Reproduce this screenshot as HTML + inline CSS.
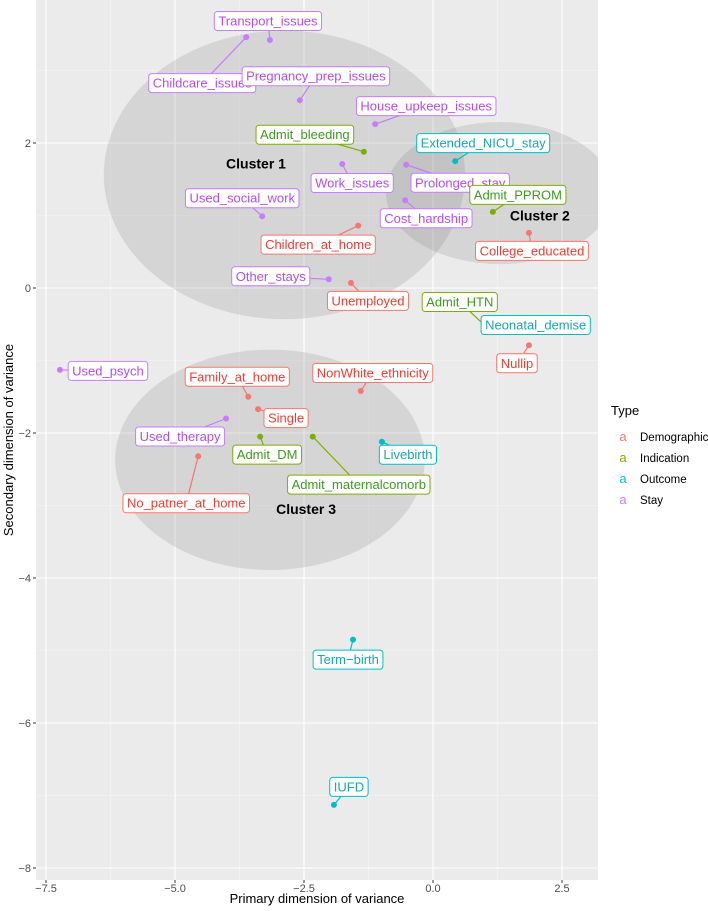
<!DOCTYPE html>
<html><head><meta charset="utf-8"><style>
body{margin:0;background:#fff;font-family:"Liberation Sans",sans-serif}
svg text{font-family:"Liberation Sans",sans-serif}
</style></head><body>
<svg id="chart" width="708" height="906" xmlns="http://www.w3.org/2000/svg">
<defs><clipPath id="pc"><rect x="36" y="0" width="562" height="880"/></clipPath></defs>
<rect x="36" y="0" width="562" height="880" fill="#EBEBEB"/>
<g id="grid" clip-path="url(#pc)"></g><g id="clusters" clip-path="url(#pc)"></g><g id="segs"></g><g id="pts"></g><g id="labels"></g><g id="axes"></g>
<text x="317" y="903" text-anchor="middle" font-size="13" fill="#000">Primary dimension of variance</text>
<text transform="translate(13,440) rotate(-90)" text-anchor="middle" font-size="13" fill="#000">Secondary dimension of variance</text>
<g>
<text x="611" y="415" font-size="13">Type</text>
</g>
<g id="legend"></g>
</svg>
<script>
const names=["Transport_issues","Childcare_issues","Pregnancy_prep_issues","House_upkeep_issues","Admit_bleeding","Extended_NICU_stay","Work_issues","Prolonged_stay","Admit_PPROM","Cost_hardship","Used_social_work","Children_at_home","College_educated","Other_stays","Unemployed","Admit_HTN","Neonatal_demise","Nullip","Used_psych","Family_at_home","NonWhite_ethnicity","Single","Used_therapy","Admit_DM","Admit_maternalcomorb","Livebirth","No_patner_at_home","Term\u2212birth","IUFD"];
const types=["Stay","Stay","Stay","Stay","Indication","Outcome","Stay","Stay","Indication","Stay","Stay","Demographic","Demographic","Stay","Demographic","Indication","Outcome","Demographic","Stay","Demographic","Demographic","Demographic","Stay","Indication","Indication","Outcome","Demographic","Outcome","Outcome"];
const xVals=[-3.16,-3.62,-2.58,-1.12,-1.34,0.43,-1.76,-0.52,1.16,-0.54,-3.31,-1.45,1.86,-2.02,-1.59,1.10,1.99,1.86,-7.23,-3.58,-1.40,-3.39,-4.01,-3.35,-2.33,-0.99,-4.55,-1.55,-1.92];
const yVals=[3.42,3.46,2.59,2.26,1.88,1.75,1.71,1.70,1.05,1.21,0.99,0.86,0.76,0.12,0.07,-0.58,-0.51,-0.79,-1.13,-1.50,-1.42,-1.67,-1.80,-2.05,-2.05,-2.12,-2.32,-4.85,-7.13];
// label offsets (px) relative to point — layout, not data
const ldx=[-2,-44,16,51,-59,28,10,54,25,21,-20,-40,3,-58,17,-30,0,-12,48,-11,12,28,-46,7,46,26,-12,-5,15];
const ldy=[-19,46,-24,-18,-17,-18,19,18,-17,18,-18,19,18,-3,18,-28,0,18,1,-20,-18,9,18,18,48,13,47,20,-18];
const xTicks=[-7.5,-5.0,-2.5,0.0,2.5], xTickLabels=["\u22127.5","\u22125.0","\u22122.5","0.0","2.5"];
const yTicks=[2,0,-2,-4,-6,-8], yTickLabels=["2","0","\u22122","\u22124","\u22126","\u22128"];
const typeNames=["Demographic","Indication","Outcome","Stay"];
const typeColors=["#F8766D","#7CAE00","#00BFC4","#C77CFF"];
const textColors=["#EE3B33","#3E9A1E","#17A7AD","#B44BEF"];
const clusterNames=["Cluster 1","Cluster 2","Cluster 3"];
const clusterCx=[-2.88,1.29,-3.16], clusterCy=[1.56,1.31,-2.37], clusterRx=[3.5,2.2,3.0], clusterRy=[1.99,0.98,1.52];
const clusterLx=[-3.43,2.07,-2.46], clusterLy=[1.72,1.0,-3.05];
const X=v=>433+v*51.6, Y=v=>288-v*72.5;
const NS="http://www.w3.org/2000/svg";
function mk(tag,attrs,parent){const e=document.createElementNS(NS,tag);for(const k in attrs)e.setAttribute(k,attrs[k]);parent.appendChild(e);return e;}
const g=document.getElementById('grid');
for(let i=0;i<xTicks.length;i++){
 const m=mk('line',{x1:X(xTicks[i]+1.25),x2:X(xTicks[i]+1.25),y1:0,y2:880,stroke:'#F5F5F5','stroke-width':0.6},g);
 const l=mk('line',{x1:X(xTicks[i]),x2:X(xTicks[i]),y1:0,y2:880,stroke:'#fff','stroke-width':1.1},g);}
for(let i=0;i<yTicks.length;i++){
 const m=mk('line',{x1:36,x2:598,y1:Y(yTicks[i]+1),y2:Y(yTicks[i]+1),stroke:'#F5F5F5','stroke-width':0.6},g);
 const l=mk('line',{x1:36,x2:598,y1:Y(yTicks[i]),y2:Y(yTicks[i]),stroke:'#fff','stroke-width':1.1},g);}
const cg=document.getElementById('clusters');
for(let i=0;i<clusterNames.length;i++){
 const e=mk('ellipse',{cx:X(clusterCx[i]),cy:Y(clusterCy[i]),rx:clusterRx[i]*51.6,ry:clusterRy[i]*72.5,fill:'#7f7f7f','fill-opacity':0.2},cg);
 
}
const sg=document.getElementById('segs'),pg=document.getElementById('pts'),lg=document.getElementById('labels');
for(let i=0;i<names.length;i++){
 const t=typeNames.indexOf(types[i]);const px=X(xVals[i]),py=Y(yVals[i]);
 const s=mk('line',{x1:px,y1:py,x2:px+ldx[i],y2:py+ldy[i],stroke:typeColors[t],'stroke-width':1.2},sg);
 
 const c=mk('circle',{cx:px,cy:py,r:3,fill:typeColors[t]},pg);
 
 const lgp=mk('g',{},lg);
 const tx=mk('text',{x:px+ldx[i],y:py+ldy[i]+4.5,'text-anchor':'middle','font-size':13,fill:textColors[t]},lgp);tx.textContent=names[i];
 const w=tx.getComputedTextLength();
 const r=mk('rect',{x:px+ldx[i]-w/2-4,y:py+ldy[i]-9.5,width:w+8,height:19,rx:3,fill:'#fff',stroke:typeColors[t],'stroke-width':1},lgp);
 lgp.insertBefore(r,tx);
}
for(let i=0;i<clusterNames.length;i++){const t=mk('text',{x:X(clusterLx[i]),y:Y(clusterLy[i])+5,'text-anchor':'middle','font-size':14,'font-weight':'bold',fill:'#000'},lg);t.textContent=clusterNames[i];
 }
const ag=document.getElementById('axes');
for(let i=0;i<xTicks.length;i++){const l=mk('line',{x1:X(xTicks[i]),x2:X(xTicks[i]),y1:880,y2:883,stroke:'#333'},ag);
 const t=mk('text',{x:X(xTicks[i]),y:892,'text-anchor':'middle','font-size':11,fill:'#4D4D4D'},ag);t.textContent=xTickLabels[i];}
for(let i=0;i<yTicks.length;i++){const l=mk('line',{x1:33,x2:36,y1:Y(yTicks[i]),y2:Y(yTicks[i]),stroke:'#333'},ag);
 const t=mk('text',{x:31,y:Y(yTicks[i])+4,'text-anchor':'end','font-size':11,fill:'#4D4D4D'},ag);t.textContent=yTickLabels[i];}
const leg=document.getElementById('legend');
for(let i=0;i<typeNames.length;i++){const y=441+i*21;
 const k=mk('text',{x:623,y:y,'text-anchor':'middle','font-size':13,fill:typeColors[i]},leg);k.textContent='a';
 const t=mk('text',{x:640,y:y,'font-size':11.5,fill:'#000'},leg);t.textContent=typeNames[i];}
</script>
</body></html>
